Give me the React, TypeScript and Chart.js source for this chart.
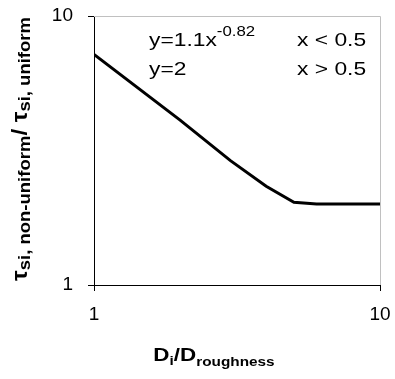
import React, { useEffect, useRef } from 'react';
import { Chart, registerables } from 'chart.js';

Chart.register(...registerables);

// Data (log-log)
const ratioX: number[] = [1, 2, 3, 4, 5, 6, 7, 8, 9, 10];
const tauRatio: number[] = [7.2, 4.1, 2.9, 2.33, 2.03, 2.0, 2.0, 2.0, 2.0, 2.0];
const xTickValues: number[] = [1, 10];
const yTickValues: number[] = [1, 10];

const eqLine1 = 'y=1.1x';
const eqLine1Sup = '-0.82';
const eqLine1Cond = 'x < 0.5';
const eqLine2 = 'y=2';
const eqLine2Cond = 'x > 0.5';

const FONT = '"Liberation Sans", Arial, Helvetica, sans-serif';
const STRETCH = 1.2;

type Seg = { t: string; size: number; dy: number };

function drawSegs(ctx: CanvasRenderingContext2D, segs: Seg[], x: number, y: number, bold: boolean) {
  let cx = x;
  for (const s of segs) {
    ctx.font = `${bold ? 'bold ' : ''}${s.size}px ${FONT}`;
    ctx.fillText(s.t, cx, y + s.dy);
    cx += ctx.measureText(s.t).width;
  }
}
function segsWidth(ctx: CanvasRenderingContext2D, segs: Seg[], bold: boolean) {
  let w = 0;
  for (const s of segs) {
    ctx.font = `${bold ? 'bold ' : ''}${s.size}px ${FONT}`;
    w += ctx.measureText(s.t).width;
  }
  return w;
}
function stretchedText(ctx: CanvasRenderingContext2D, t: string, x: number, y: number, font: string) {
  ctx.save();
  ctx.font = font;
  ctx.translate(x, y);
  ctx.scale(STRETCH, 1);
  ctx.fillText(t, 0, 0);
  const w = ctx.measureText(t).width * STRETCH;
  ctx.restore();
  return w;
}

const decorPlugin = {
  id: 'decor',
  afterDraw(chart: any) {
    const ctx: CanvasRenderingContext2D = chart.ctx;
    const a = chart.chartArea;
    ctx.save();
    // light frame on top/right
    ctx.strokeStyle = '#c0c0c0';
    ctx.lineWidth = 1;
    ctx.beginPath();
    ctx.moveTo(a.left, a.top + 0.5);
    ctx.lineTo(a.right + 0.5, a.top + 0.5);
    ctx.lineTo(a.right + 0.5, a.bottom);
    ctx.stroke();

    ctx.fillStyle = '#000';
    ctx.textBaseline = 'alphabetic';
    ctx.textAlign = 'left';
    // equation annotation
    const big = `19px ${FONT}`;
    const w1 = stretchedText(ctx, eqLine1, 149, 46, big);
    stretchedText(ctx, eqLine1Sup, 149 + w1, 36, `14px ${FONT}`);
    stretchedText(ctx, eqLine1Cond, 297, 46, big);
    stretchedText(ctx, eqLine2, 149, 75, big);
    stretchedText(ctx, eqLine2Cond, 297, 75, big);

    // x axis title
    const xs: Seg[] = [
      { t: 'D', size: 19, dy: 0 },
      { t: 'i', size: 13, dy: 4 },
      { t: '/D', size: 19, dy: 0 },
      { t: 'roughness', size: 13, dy: 5 },
    ];
    const xw = segsWidth(ctx, xs, true) * 1.18;
    ctx.save();
    ctx.translate(214 - xw / 2, 361);
    ctx.scale(1.18, 1);
    drawSegs(ctx, xs, 0, 0, true);
    ctx.restore();

    // y axis title (rotated)
    const ys: Seg[] = [
      { t: 'τ', size: 22, dy: 0 },
      { t: 'si, non-uniform', size: 17, dy: 3 },
      { t: '/ ', size: 22, dy: 0 },
      { t: 'τ', size: 22, dy: 0 },
      { t: 'si, uniform', size: 17, dy: 3 },
    ];
    const yw = segsWidth(ctx, ys, true);
    const targetLen = 264;
    const k = targetLen / yw;
    ctx.save();
    ctx.translate(27, 149);
    ctx.rotate(-Math.PI / 2);
    ctx.scale(k, 1);
    drawSegs(ctx, ys, -yw / 2, 0, true);
    ctx.restore();
    ctx.restore();
  },
};

export default function App() {
  const ref = useRef<HTMLCanvasElement | null>(null);
  useEffect(() => {
    document.body.style.margin = '0';
    const canvas = ref.current!;
    const chart = new Chart(canvas, {
      type: 'line',
      data: {
        datasets: [
          {
            data: ratioX.map((x, i) => ({ x, y: tauRatio[i] })),
            borderColor: '#000',
            borderWidth: 3,
            pointRadius: 0,
            tension: 0,
            fill: false,
          },
        ],
      },
      options: {
        animation: false,
        responsive: false,
        events: [],
        layout: { padding: { top: 16, right: 15, left: 0, bottom: 0 } },
        plugins: { legend: { display: false }, tooltip: { enabled: false }, title: { display: false } },
        scales: {
          x: {
            type: 'logarithmic',
            min: 1,
            max: 10,
            afterBuildTicks: (s: any) => { s.ticks = xTickValues.map((v) => ({ value: v })); },
            afterFit: (s: any) => { s.height = 94; s.paddingLeft = 0; s.paddingRight = 0; },
            ticks: {
              autoSkip: false,
              maxRotation: 0,
              padding: 12,
              color: '#000',
              font: { family: FONT, size: 19 },
              callback: (v: any) => String(v),
            },
            grid: { drawOnChartArea: false, drawTicks: true, tickLength: 6, color: '#000' },
            border: { display: true, color: '#000', width: 1 },
          },
          y: {
            type: 'logarithmic',
            min: 1,
            max: 10,
            afterBuildTicks: (s: any) => { s.ticks = yTickValues.map((v) => ({ value: v })); },
            afterFit: (s: any) => { s.width = 94; s.paddingTop = 0; s.paddingBottom = 0; },
            ticks: {
              autoSkip: false,
              padding: 15,
              color: '#000',
              font: { family: FONT, size: 19 },
              callback: (v: any) => String(v),
            },
            grid: { drawOnChartArea: false, drawTicks: true, tickLength: 6, color: '#000' },
            border: { display: true, color: '#000', width: 1 },
          },
        },
      },
      plugins: [decorPlugin],
    });
    return () => chart.destroy();
  }, []);
  return (
    <div style={{ position: 'absolute', left: 0, top: 0, width: 395, height: 379, background: '#fff' }}>
      <canvas ref={ref} width={395} height={379} />
    </div>
  );
}
